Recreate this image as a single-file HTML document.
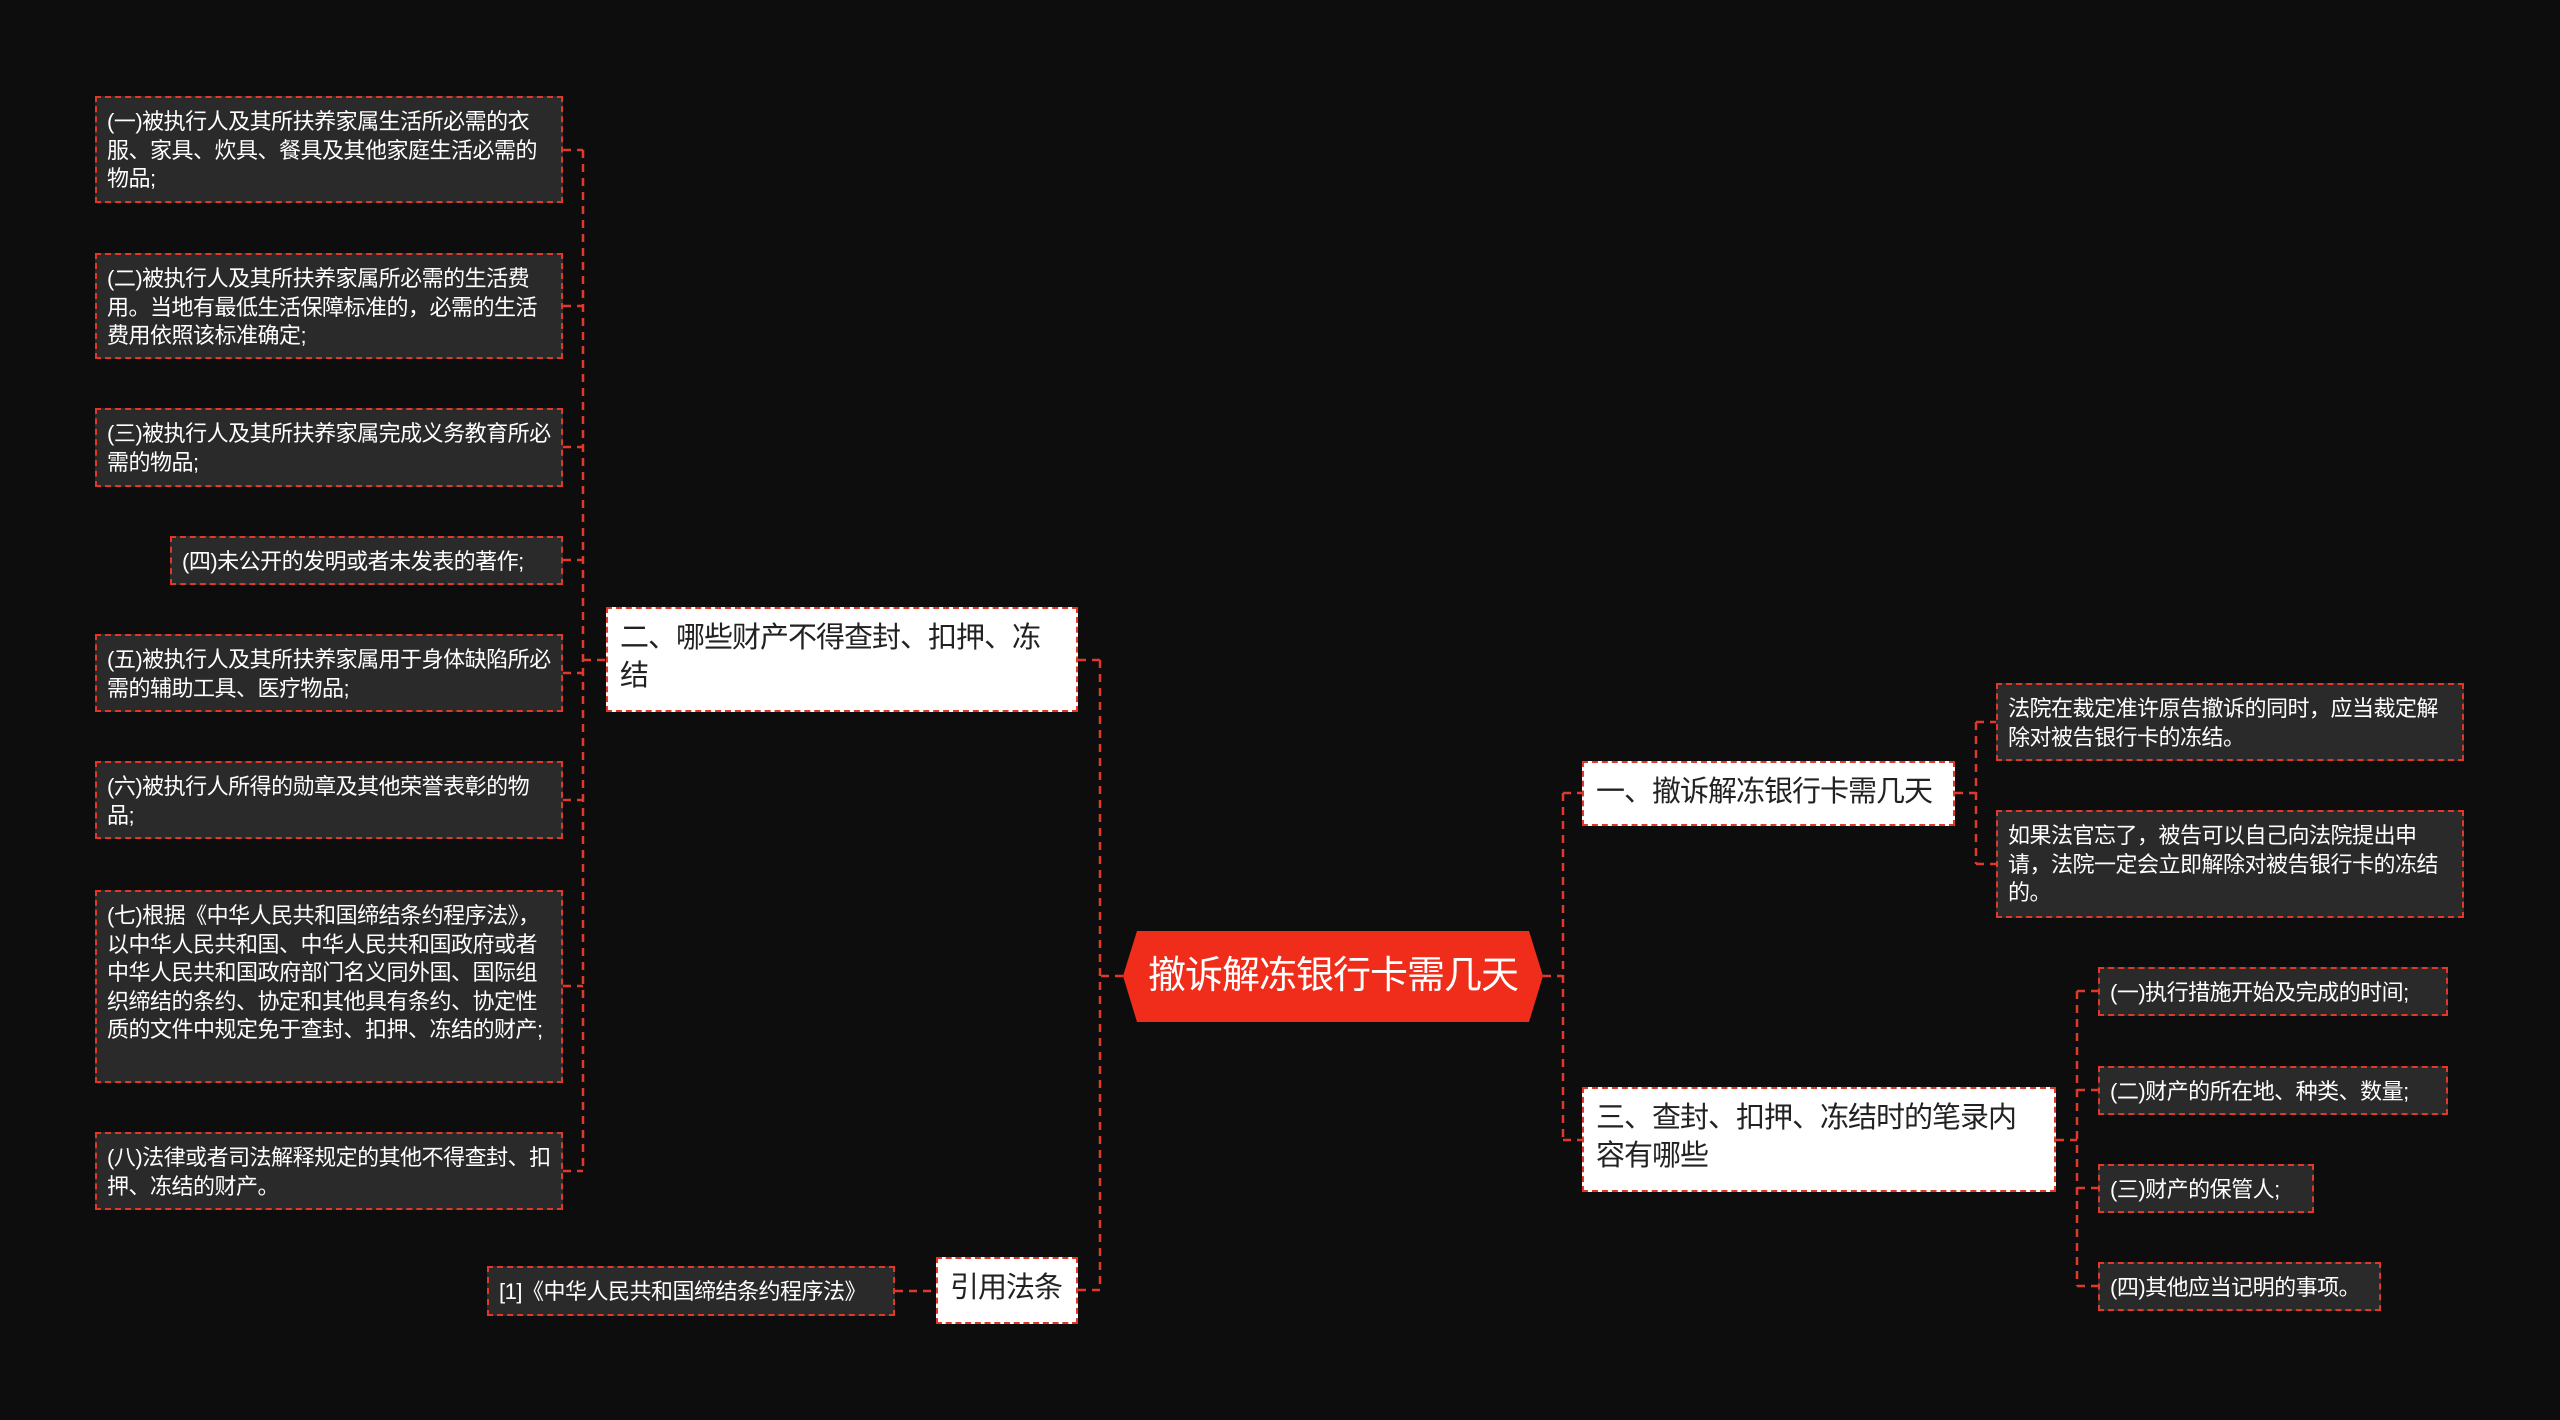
<!DOCTYPE html>
<html><head><meta charset="utf-8"><style>
body{margin:0;width:2560px;height:1420px;background:#0d0d0d;overflow:hidden;position:relative;font-family:"Liberation Sans","Noto Sans CJK SC",sans-serif}
.b{position:absolute;box-sizing:border-box;border:2px dashed #e0392b;background:#2a2a2a;color:#fff;font-size:22px;line-height:28.5px;padding:10px 10px;letter-spacing:-0.5px}
.w{position:absolute;box-sizing:border-box;border:2px dashed #e0392b;background:#fff;color:#222;font-size:29px;line-height:38px;padding:10px 12px;letter-spacing:-1px}
.n{white-space:nowrap}
svg{position:absolute;left:0;top:0}
</style></head><body>
<svg width="2560" height="1420"><g stroke="#e0392b" stroke-width="2.5" stroke-dasharray="8 6" fill="none">
<path d="M563 150H583M563 306H583M563 447H583M563 560H583M563 673H583M563 800H583M563 986H583M563 1171H583M583 150V1171M583 660H606"/>
<path d="M1123 976H1100M1100 660V1290M1100 660H1078M1100 1290H1078"/>
<path d="M895 1291H936"/>
<path d="M1543 976H1563M1563 793V1140M1563 793H1582M1563 1140H1582"/>
<path d="M1955 793H1976M1976 722V864M1976 722H1996M1976 864H1996"/>
<path d="M2056 1140H2077M2077 991V1286M2077 991H2098M2077 1090H2098M2077 1188H2098M2077 1286H2098"/>
</g>
<polygon points="1137,931 1529,931 1543,976 1529,1022 1137,1022 1123,976" fill="#ef2d1a"/>
</svg>
<div style="position:absolute;left:1123px;top:931px;width:420px;height:91px;line-height:91px;text-align:center;color:#fff;font-size:38px;letter-spacing:-1px">撤诉解冻银行卡需几天</div>
<div class="b" style="left:95px;top:96px;width:468px;height:107px">(一)被执行人及其所扶养家属生活所必需的衣服、家具、炊具、餐具及其他家庭生活必需的物品;</div>
<div class="b" style="left:95px;top:253px;width:468px;height:106px">(二)被执行人及其所扶养家属所必需的生活费用。当地有最低生活保障标准的，必需的生活费用依照该标准确定;</div>
<div class="b" style="left:95px;top:408px;width:468px;height:79px">(三)被执行人及其所扶养家属完成义务教育所必需的物品;</div>
<div class="b" style="left:170px;top:536px;width:393px;height:49px">(四)未公开的发明或者未发表的著作;</div>
<div class="b" style="left:95px;top:634px;width:468px;height:78px">(五)被执行人及其所扶养家属用于身体缺陷所必需的辅助工具、医疗物品;</div>
<div class="b" style="left:95px;top:761px;width:468px;height:78px">(六)被执行人所得的勋章及其他荣誉表彰的物品;</div>
<div class="b" style="left:95px;top:890px;width:468px;height:193px">(七)根据《中华人民共和国缔结条约程序法》，以中华人民共和国、中华人民共和国政府或者中华人民共和国政府部门名义同外国、国际组织缔结的条约、协定和其他具有条约、协定性质的文件中规定免于查封、扣押、冻结的财产;</div>
<div class="b" style="left:95px;top:1132px;width:468px;height:78px">(八)法律或者司法解释规定的其他不得查封、扣押、冻结的财产。</div>
<div class="b n" style="left:487px;top:1266px;width:408px;height:50px">[1]《中华人民共和国缔结条约程序法》</div>
<div class="w" style="left:606px;top:607px;width:472px;height:105px">二、哪些财产不得查封、扣押、冻结</div>
<div class="w n" style="left:936px;top:1257px;width:142px;height:67px">引用法条</div>
<div class="w n" style="left:1582px;top:761px;width:373px;height:65px">一、撤诉解冻银行卡需几天</div>
<div class="w" style="left:1582px;top:1087px;width:474px;height:105px">三、查封、扣押、冻结时的笔录内容有哪些</div>
<div class="b" style="left:1996px;top:683px;width:468px;height:78px">法院在裁定准许原告撤诉的同时，应当裁定解除对被告银行卡的冻结。</div>
<div class="b" style="left:1996px;top:810px;width:468px;height:108px">如果法官忘了，被告可以自己向法院提出申请，法院一定会立即解除对被告银行卡的冻结的。</div>
<div class="b n" style="left:2098px;top:967px;width:350px;height:49px">(一)执行措施开始及完成的时间;</div>
<div class="b n" style="left:2098px;top:1066px;width:350px;height:49px">(二)财产的所在地、种类、数量;</div>
<div class="b n" style="left:2098px;top:1164px;width:216px;height:49px">(三)财产的保管人;</div>
<div class="b n" style="left:2098px;top:1262px;width:283px;height:49px">(四)其他应当记明的事项。</div>
</body></html>
